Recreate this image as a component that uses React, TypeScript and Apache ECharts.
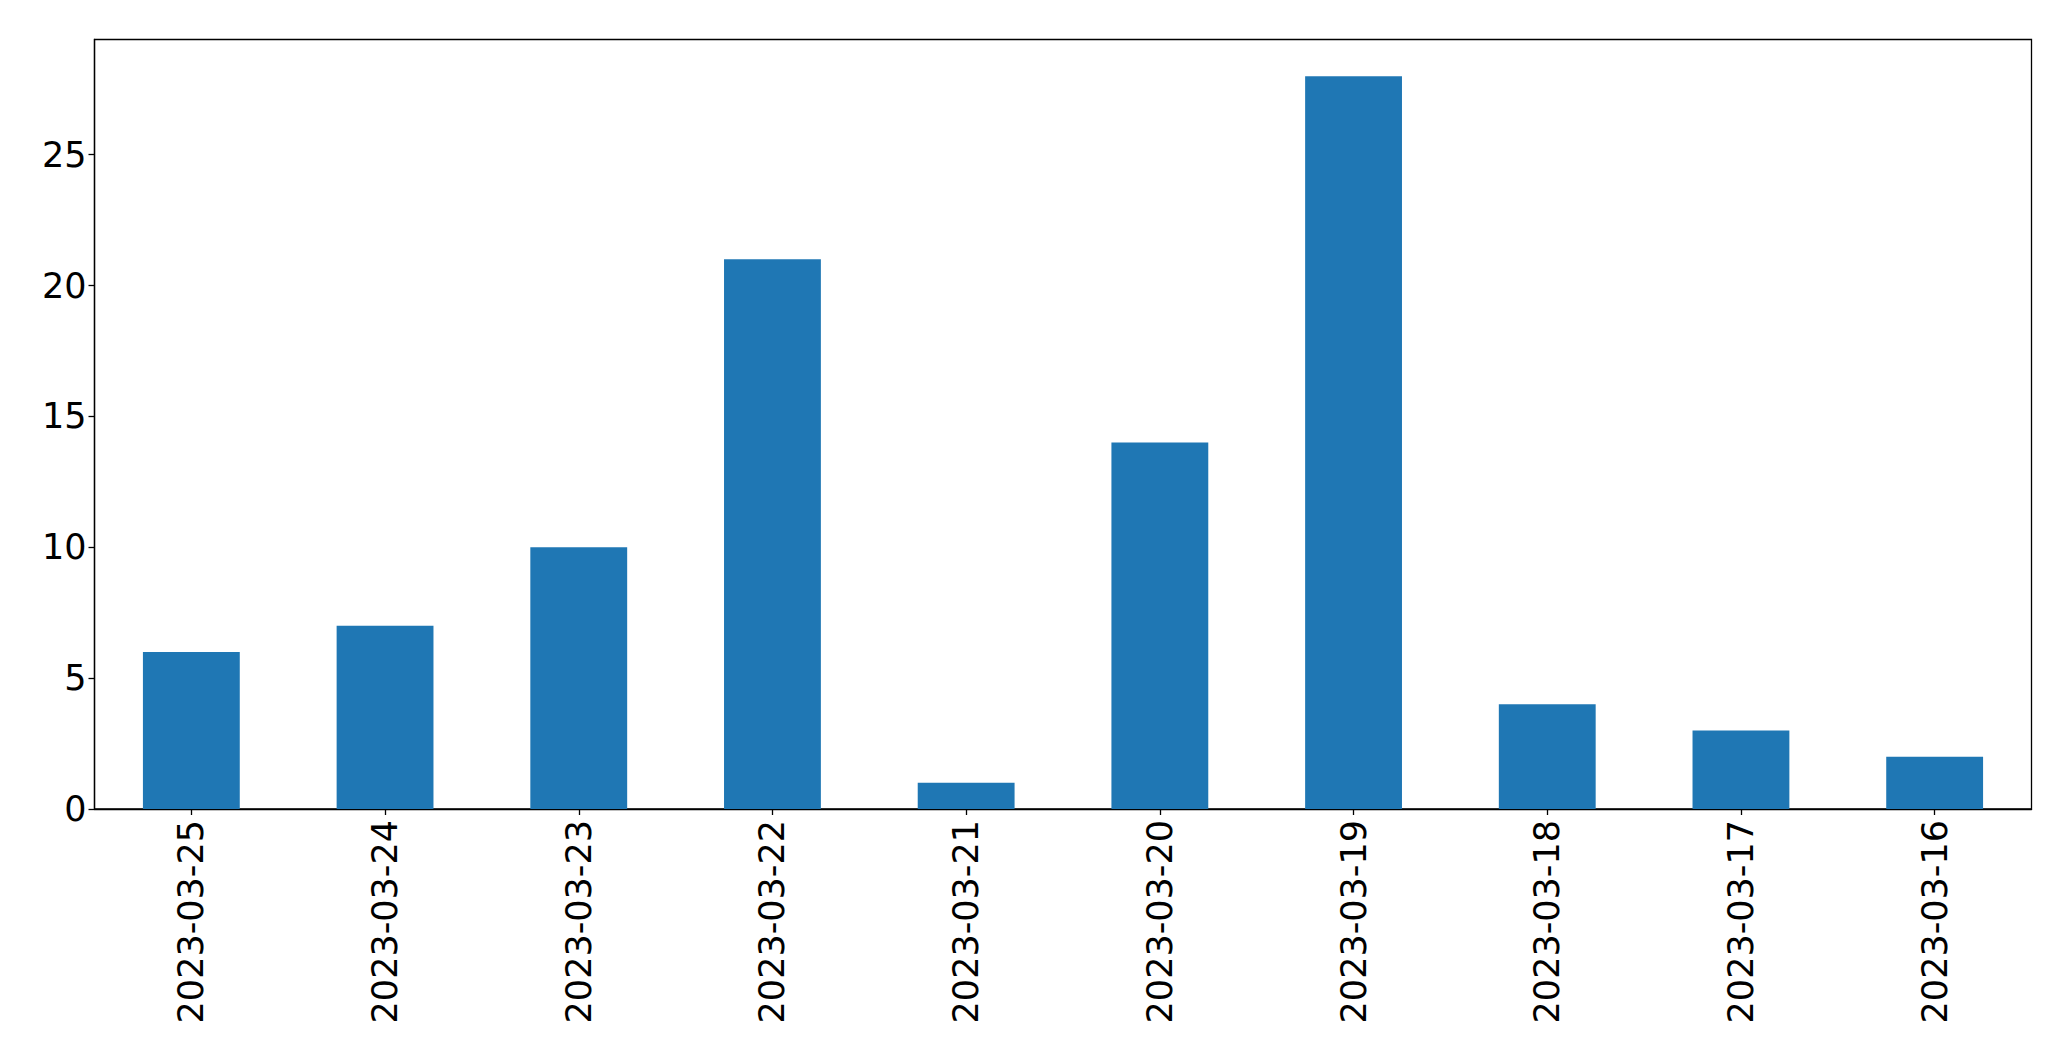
import React, { useEffect, useRef } from "react";
import * as echarts from "echarts";

const categories = [
  "2023-03-25",
  "2023-03-24",
  "2023-03-23",
  "2023-03-22",
  "2023-03-21",
  "2023-03-20",
  "2023-03-19",
  "2023-03-18",
  "2023-03-17",
  "2023-03-16",
];
const counts = [6, 7, 10, 21, 1, 14, 28, 4, 3, 2];

export default function App() {
  const ref = useRef<HTMLDivElement>(null);
  useEffect(() => {
    if (!ref.current) return;
    const chart = echarts.init(ref.current, undefined, { renderer: "svg" });
    const font = "DejaVu Sans";
    chart.setOption({
      animation: false,
      backgroundColor: "#ffffff",
      grid: {
        left: 94.5,
        right: 39.5,
        top: 39.5,
        bottom: 252,
        show: true,
        borderColor: "#000000",
        borderWidth: 1.3,
        backgroundColor: "transparent",
      },
      xAxis: {
        type: "category",
        data: categories,
        boundaryGap: true,
        axisLine: { show: true, lineStyle: { color: "#000", width: 1.3 } },
        axisTick: {
          show: true,
          alignWithLabel: true,
          length: 6,
          lineStyle: { color: "#000", width: 1.3 },
        },
        axisLabel: {
          rotate: 90,
          interval: 0,
          margin: 11,
          color: "#000",
          fontFamily: font,
          fontSize: 35,
        },
        splitLine: { show: false },
      },
      yAxis: {
        type: "value",
        min: 0,
        max: 29.4,
        interval: 5,
        axisLine: { show: true, lineStyle: { color: "#000", width: 1.3 } },
        axisTick: {
          show: true,
          length: 6,
          lineStyle: { color: "#000", width: 1.3 },
        },
        axisLabel: {
          margin: 8,
          color: "#000",
          fontFamily: font,
          fontSize: 35,
          showMaxLabel: false,
          formatter: (v: number) => (v % 5 === 0 ? String(v) : ""),
        },
        splitLine: { show: false },
      },
      series: [
        {
          type: "bar",
          data: counts,
          barWidth: "50%",
          itemStyle: { color: "#1f77b4" },
        },
      ],
    });
    return () => chart.dispose();
  }, []);
  return (
    <div
      ref={ref}
      style={{ position: "fixed", left: 0, top: 0, width: "2071px", height: "1061px" }}
    />
  );
}
